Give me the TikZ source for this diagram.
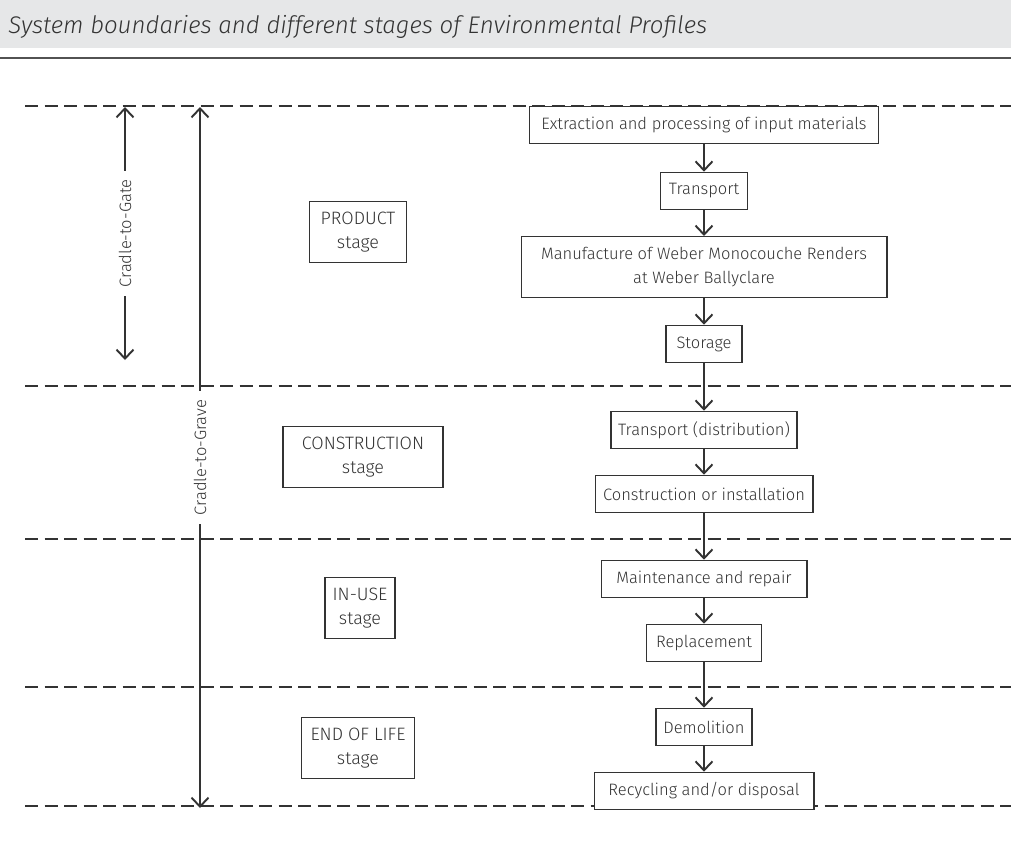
\documentclass[tikz,border=0pt]{standalone}
\usepackage{fontspec}
\setmainfont{Fira Sans}[UprightFont=* Light, ItalicFont=* Light Italic]
\usetikzlibrary{arrows.meta}
\definecolor{bandgray}{HTML}{E6E7E8}
\definecolor{inkgray}{HTML}{333333}
\tikzset{
  stepbox/.style={draw=inkgray, line width=0.6pt, fill=white, inner xsep=4pt,
    minimum height=0.75cm, align=center},
  stagebox/.style={stepbox, minimum height=1.22cm},
  stagetext/.style={font=\fontsize{10.2}{13.5}\selectfont},
  barb/.tip={Straight Barb[length=1.8mm,width=3.4mm,line width=1.1pt]},
  flow/.style={inkgray, line width=0.6pt, -barb},
  span/.style={inkgray, line width=0.6pt, barb-barb},
  spanlabel/.style={rotate=90, fill=white, inner xsep=5pt, inner ysep=1pt},
  boundary/.style={inkgray, line width=0.7pt, dash pattern=on 7.4pt off 3.7pt},
}

\begin{document}
\begin{tikzpicture}[x=0.02cm, y=-0.02cm, font=\fontsize{9.4}{13.5}\selectfont, text=inkgray]
  \useasboundingbox (0,0) rectangle (1011,845);
  % header
  \fill[bandgray] (0,0) rectangle (1011,48);
  \node[anchor=base west, inner sep=0pt, font=\fontsize{13.7}{15}\selectfont\itshape] %
    (title) at (8,33) {System boundaries and different stages of Environmental Profiles};
  \draw[inkgray!85, line width=1pt] (0,58) -- (1011,58);
  % stage boundaries
  \foreach \y in {106,386,539,687,806}
    \draw[boundary] (25,\y) -- (1011,\y);
  % cradle-to-gate and cradle-to-grave
  \coordinate (gate top) at (125,107);
  \coordinate (gate bot) at (125,360);
  \coordinate (grave top) at (200,107);
  \coordinate (grave bot) at (200,808);
  \draw[span] (gate top) -- (gate bot) node[midway, spanlabel] (gatelbl) {Cradle-to-Gate};
  \draw[span] (grave top) -- (grave bot) node[midway, spanlabel] (gravelbl) {Cradle-to-Grave};
  % stages
  \node[stagebox, stagetext, minimum width=1.94cm] (product) at (358,232) {PRODUCT\\stage};
  \node[stagebox, stagetext, minimum width=3.2cm] (construction) at (363,457) {CONSTRUCTION\\stage};
  \node[stagebox, stagetext, minimum width=1.4cm] (inuse) at (360,608) {IN-USE\\stage};
  \node[stagebox, stagetext, minimum width=2.26cm] (endoflife) at (358,748) {END OF LIFE\\stage};
  % processes
  \node[stepbox, minimum width=6.98cm] (extract) at (704,125) {Extraction and processing of input materials};
  \node[stepbox, minimum width=1.74cm] (transp) at (704,191) {Transport};
  \node[stagebox, minimum width=7.32cm] (manuf) at (704,267) {Manufacture of Weber Monocouche Renders\\at Weber Ballyclare};
  \node[stepbox, minimum width=1.52cm] (storage) at (704,344) {Storage};
  \node[stepbox, minimum width=3.66cm] (distrib) at (704,430) {Transport (distribution)};
  \node[stepbox, minimum width=4.36cm] (install) at (704,494) {Construction or installation};
  \node[stepbox, minimum width=4.12cm] (maint) at (704,579) {Maintenance and repair};
  \node[stepbox, minimum width=2.3cm] (replace) at (704,643) {Replacement};
  \node[stepbox, minimum width=1.92cm] (demol) at (704,727) {Demolition};
  \node[stepbox, minimum width=4.4cm] (recycle) at (704,791) {Recycling and/or disposal};
  \foreach \a/\b in {extract/transp, transp/manuf, manuf/storage, storage/distrib,
      distrib/install, install/maint, maint/replace, replace/demol, demol/recycle}
    \draw[flow] (\a) -- (\b);
\end{tikzpicture}
\end{document}
